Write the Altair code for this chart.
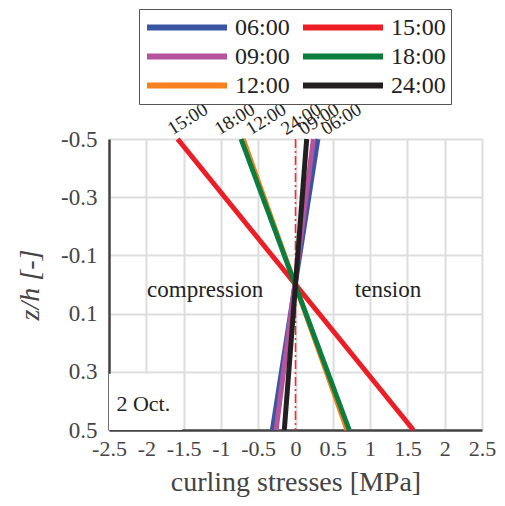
import altair as alt
import pandas as pd

# ---- data ----
times = ["06:00", "09:00", "12:00", "15:00", "18:00", "24:00"]
stress_top = [0.30, 0.24, -0.70, -1.58, -0.73, 0.15]     # at z/h = -0.5
stress_bottom = [-0.31, -0.26, 0.69, 1.58, 0.72, -0.15]  # at z/h = 0.5
z_top = -0.5
z_bottom = 0.5

colors = ["#3a55a4", "#b5539c", "#f5821f", "#ec1d25", "#0b7d3e", "#231f20"]

label_times = ["15:00", "18:00", "12:00", "24:00", "09:00", "06:00"]
label_x = [-1.62, -0.99, -0.57, -0.10, 0.14, 0.44]

x_ticks = [-2.5, -2.0, -1.5, -1.0, -0.5, 0.0, 0.5, 1.0, 1.5, 2.0, 2.5]
y_ticks = [-0.5, -0.3, -0.1, 0.1, 0.3, 0.5]

region_text = ["compression", "tension"]
region_x = [-1.21, 1.24]
region_z = [0.02, 0.02]

date_text = "2 Oct."

FONT = "Liberation Serif"
GREY = "#444444"

rows = []
for i, t in enumerate(times):
    rows.append({"time": t, "order": i, "stress": stress_top[i], "z": z_top})
    rows.append({"time": t, "order": i, "stress": stress_bottom[i], "z": z_bottom})
lines_df = pd.DataFrame(rows)

labels_df = pd.DataFrame({"time": label_times, "x": label_x, "z": [z_top] * len(label_times)})
regions_df = pd.DataFrame({"text": region_text, "x": region_x, "z": region_z})
box_df = pd.DataFrame({"x": [-2.5], "x2": [-1.52], "z": [0.307], "z2": [0.5]})
date_df = pd.DataFrame({"text": [date_text], "x": [-2.4], "z": [0.41]})
zero_df = pd.DataFrame({"x": [0.0, 0.0], "z": [z_top, z_bottom]})

neg_fix = "datum.value < 0 ? '-' + format(-datum.value, '~g') : format(datum.value, '~g')"
neg_fix_y = "datum.value < 0 ? '-' + format(-datum.value, '.1f') : format(datum.value, '.1f')"

x_scale = alt.Scale(domain=[-2.5, 2.5], nice=False, zero=False)
y_scale = alt.Scale(domain=[-0.5, 0.5], reverse=True, nice=False, zero=False)

x_axis = alt.Axis(values=x_ticks, labelExpr=neg_fix, title="curling stresses [MPa]",
                  grid=True, gridColor="#dddddd", gridWidth=2, ticks=False,
                  labelPadding=8, labelFontSize=22, labelColor=GREY, labelFont=FONT,
                  labelOverlap=False, labelBound=False,
                  titleFont=FONT, titleFontSize=28, titleColor=GREY, titleFontWeight="normal",
                  titleX=186.5, titleY=52, titleBaseline="middle",
                  domainColor="#444444", domainWidth=2.5, labelFlush=False)
y_axis = alt.Axis(values=y_ticks, labelExpr=neg_fix_y, title="z/h [-]",
                  grid=True, gridColor="#dddddd", gridWidth=2, ticks=False,
                  labelPadding=12, labelFontSize=23, labelColor=GREY, labelFont=FONT,
                  labelOverlap=False,
                  titleFont=FONT, titleFontSize=28, titleColor=GREY, titleFontWeight="normal",
                  titleFontStyle="italic",
                  titleX=-79, titleY=145.5, titleBaseline="middle", titleAngle=270,
                  domainColor="#444444", domainWidth=2.5, labelFlush=False)

X = lambda f: alt.X(f, scale=x_scale, axis=x_axis)
Y = lambda f: alt.Y(f, scale=y_scale, axis=y_axis)

zero_line = alt.Chart(zero_df).mark_line(color="#e8303a", strokeWidth=1.6,
                                         strokeDash=[9, 3, 2, 3]).encode(
    x=X("x:Q"), y=Y("z:Q"),
)

lines = alt.Chart(lines_df).mark_line(strokeWidth=5, clip=False).encode(
    x=X("stress:Q"),
    y=Y("z:Q"),
    color=alt.Color("time:N",
                    scale=alt.Scale(domain=times, range=colors),
                    legend=alt.Legend(title=None, orient="none", legendX=30, legendY=-130,
                                      columns=2, symbolType="stroke", symbolSize=6400,
                                      symbolStrokeWidth=6, labelFont=FONT, labelFontSize=24,
                                      labelColor="#222222", clipHeight=27, rowPadding=2,
                                      columnPadding=10, labelOffset=5, padding=5,
                                      strokeColor="#555555", fillColor="white")),
    detail="order:O",
    order="order:O",
)

top_labels = alt.Chart(labels_df).mark_text(angle=328, align="left", baseline="alphabetic",
                                            font=FONT, fontSize=19, color="#222222",
                                            dy=-4).encode(
    x=X("x:Q"), y=Y("z:Q"), text="time:N",
)

region_labels = alt.Chart(regions_df).mark_text(font=FONT, fontSize=23, color="#222222",
                                                baseline="middle").encode(
    x=X("x:Q"), y=Y("z:Q"), text="text:N",
)

date_box = alt.Chart(box_df).mark_rect(color="white").encode(
    x=X("x:Q"), x2="x2:Q", y=Y("z:Q"), y2="z2:Q",
)

date_label = alt.Chart(date_df).mark_text(font=FONT, fontSize=22, color="#222222",
                                          align="left", baseline="middle").encode(
    x=X("x:Q"), y=Y("z:Q"), text="text:N",
)

chart = alt.layer(zero_line, date_box, date_label, lines, top_labels, region_labels).properties(
    width=373, height=291,
    autosize=alt.AutoSizeParams(type="none"),
    padding={"left": 101, "top": 131, "right": 15, "bottom": 68},
).configure_view(stroke=None).configure_axisX(labelOverlap=False).configure(background="white")

chart.save("out.html", embed_options={"renderer": "svg", "actions": False})
